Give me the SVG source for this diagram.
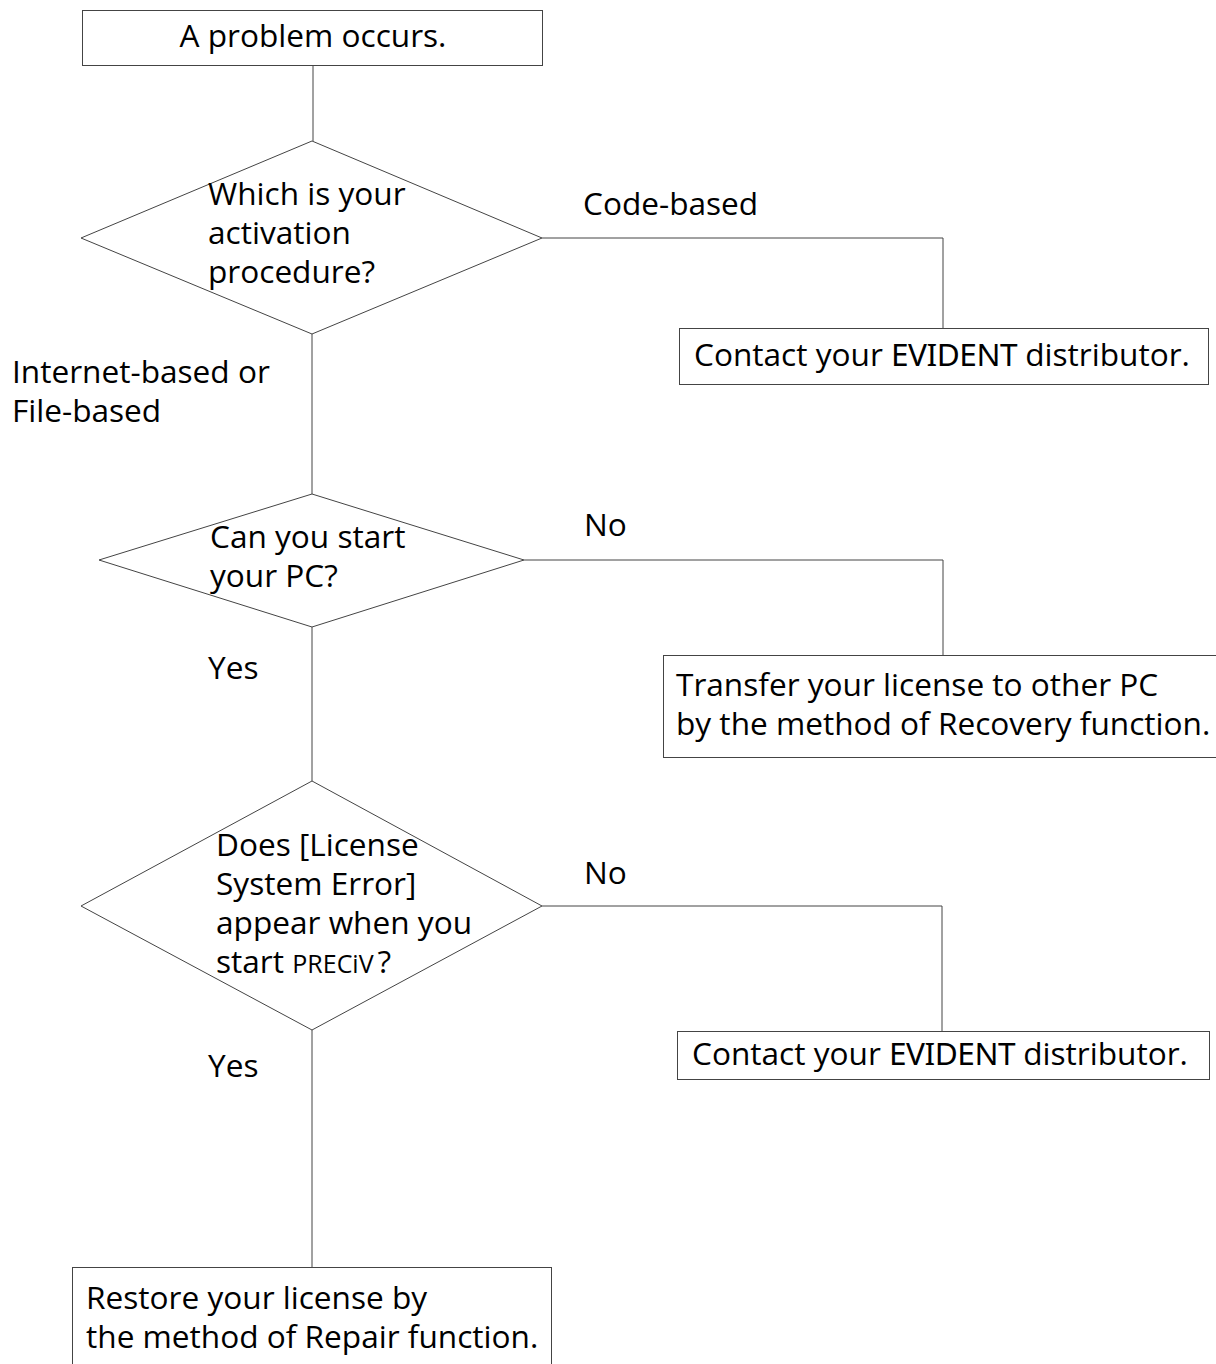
<svg xmlns="http://www.w3.org/2000/svg" width="1216" height="1364" viewBox="0 0 1216 1364">
<style>
.n{fill:#fff;stroke:#444;stroke-width:1}
.c{fill:none;stroke:#444;stroke-width:1}
text{font-family:"Open Sans","Noto Sans",sans-serif;font-size:31.6px;fill:#000}
.ev{font-family:"Noto Sans","Open Sans",sans-serif;letter-spacing:-0.5px}
.sm{font-size:25px}
</style>
<rect width="1216" height="1364" fill="#fff"/>
<g id="connectors">
<path class="c" d="M313,65V141"/>
<path class="c" d="M542,238H943V328"/>
<path class="c" d="M312,334V494"/>
<path class="c" d="M524,560H943V655"/>
<path class="c" d="M312,627V781"/>
<path class="c" d="M542,906H942V1031"/>
<path class="c" d="M312,1030V1267"/>
</g>
<g id="labels">
<text x="583" y="215">Code-based</text>
<text x="12" y="383">Internet-based or</text>
<text x="12" y="422">File-based</text>
<text x="584" y="536">No</text>
<text x="208" y="679">Yes</text>
<text x="584" y="884">No</text>
<text x="208" y="1077">Yes</text>
</g>
<g id="start">
<rect class="n" x="82.5" y="10.5" width="460" height="55"/>
<text x="313" y="47" text-anchor="middle">A problem occurs.</text>
</g>
<g id="q1">
<polygon class="n" points="312,141 542,238 312,334 81,238"/>
<text x="208" y="205">Which is your</text>
<text x="208" y="244">activation</text>
<text x="208" y="283">procedure?</text>
</g>
<g id="contact1">
<rect class="n" x="679.5" y="328.5" width="529" height="56"/>
<text x="694" y="366">Contact your <tspan class="ev">EVIDENT</tspan> distributor.</text>
</g>
<g id="q2">
<polygon class="n" points="312,494 524,560 312,627 99,560"/>
<text x="210" y="548">Can you start</text>
<text x="210" y="587">your PC?</text>
</g>
<g id="transfer">
<rect class="n" x="663.5" y="655.5" width="560" height="102"/>
<text x="676" y="696">Transfer your license to other PC</text>
<text x="676" y="735">by the method of Recovery function.</text>
</g>
<g id="q3">
<polygon class="n" points="312,781 542,906 312,1030 81,906"/>
<text x="216" y="856">Does [License</text>
<text x="216" y="895">System Error]</text>
<text x="216" y="934">appear when you</text>
<text x="216" y="973">start <tspan class="sm">PRECiV</tspan><tspan dx="4">?</tspan></text>
</g>
<g id="contact2">
<rect class="n" x="677.5" y="1031.5" width="532" height="48"/>
<text x="692" y="1065">Contact your <tspan class="ev">EVIDENT</tspan> distributor.</text>
</g>
<g id="restore">
<rect class="n" x="72.5" y="1267.5" width="479" height="110"/>
<text x="86" y="1309">Restore your license by</text>
<text x="86" y="1348">the method of Repair function.</text>
</g>
</svg>
